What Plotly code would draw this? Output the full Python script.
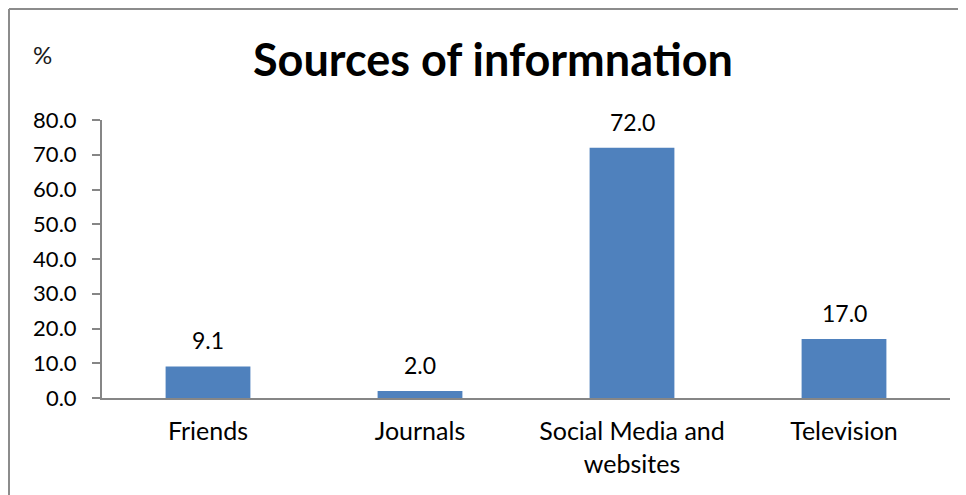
import plotly.graph_objects as go

categories = ["Friends", "Journals", "Social Media and<br>websites", "Television"]
values = [9.1, 2.0, 72.0, 17.0]
value_labels = ["9.1", "2.0", "72.0", "17.0"]
title_text = "Sources of informnation"
unit_text = "%"

# page has an 8px body margin; figure coords = reference coords - 8
OFF = 8
W, H = 966 - OFF, 495 - OFF
L, R, T, B = 102 - OFF, 966 - 950, 120 - OFF, 495 - 398
pw, ph = W - L - R, H - T - B

def px(x):
    return (x - OFF - L) / pw

def py(y):
    return (H - B - (y - OFF)) / ph

fig = go.Figure()
fig.add_trace(go.Bar(
    x=categories, y=values,
    marker=dict(color="#4F81BD", line=dict(width=0)),
    hoverinfo="x+y",
))

annotations = [
    dict(x=c, y=v, text=t, xref="x", yref="y", showarrow=False,
         yanchor="middle", yshift=26, font=dict(size=23, color="#000000"))
    for c, v, t in zip(categories, values, value_labels)
]
annotations += [
    dict(text=f"<b>{title_text}</b>", xref="paper", yref="paper",
         x=px(493), y=py(59), xanchor="center", yanchor="middle",
         showarrow=False, font=dict(size=45, color="#000000")),
    dict(text=unit_text, xref="paper", yref="paper",
         x=px(42), y=py(55), xanchor="center", yanchor="middle",
         showarrow=False, font=dict(size=24, color="#1a1a1a")),
]

fig.update_layout(
    width=W, height=H,
    margin=dict(l=L, r=R, t=T, b=B),
    paper_bgcolor="white", plot_bgcolor="white",
    font=dict(family="Lato, sans-serif", size=22, color="#000000"),
    bargap=0.6,
    showlegend=False,
    xaxis=dict(showline=True, linecolor="#868686", linewidth=2, ticks="",
               tickfont=dict(size=25), ticklabelstandoff=10, fixedrange=True),
    yaxis=dict(range=[0, 80], dtick=10, tickformat=".1f", showgrid=False,
               showline=True, linecolor="#868686", linewidth=2,
               ticks="outside", ticklen=8, tickcolor="#868686", tickwidth=2,
               tickfont=dict(size=22), ticklabelstandoff=11, zeroline=False,
               fixedrange=True),
    annotations=annotations,
    shapes=[
        dict(type="line", xref="paper", yref="paper",
             x0=px(OFF + 1), x1=px(OFF + 1), y0=py(OFF + 1), y1=py(600),
             line=dict(color="#8c8c8c", width=2)),
        dict(type="line", xref="paper", yref="paper",
             x0=px(OFF + 1), x1=px(1100), y0=py(OFF + 1), y1=py(OFF + 1),
             line=dict(color="#8c8c8c", width=2)),
    ],
)

fig.write_html("out.html")
